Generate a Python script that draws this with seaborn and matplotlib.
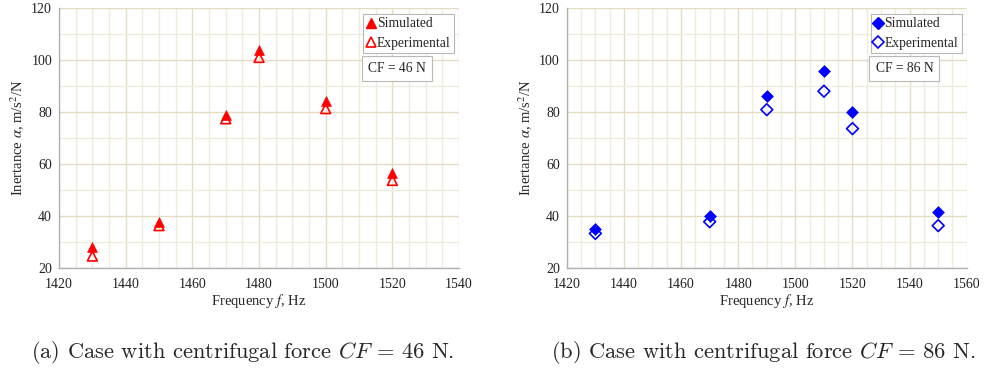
import pandas as pd
import seaborn as sns
import matplotlib
import matplotlib.pyplot as plt
from matplotlib.lines import Line2D
from matplotlib.ticker import MultipleLocator

# data
freq_a = [1430, 1450, 1470, 1480, 1500, 1520]
sim_a = [28.2, 37.6, 78.8, 104.0, 84.2, 56.5]
exp_a = [24.6, 36.3, 77.4, 101.0, 81.3, 53.7]

freq_b = [1430, 1470, 1490, 1510, 1520, 1550]
sim_b = [35.0, 40.1, 86.2, 95.6, 80.1, 41.4]
exp_b = [33.3, 37.8, 80.9, 88.0, 73.6, 36.3]

captions = ["(a) Case with centrifugal force $CF$ = 46 N.",
            "(b) Case with centrifugal force $CF$ = 86 N."]
cf_labels = ["CF = 46 N", "CF = 86 N"]

sns.set_style('white')
matplotlib.rcParams['font.family'] = ['Liberation Serif', 'DejaVu Serif']

fig = plt.figure(figsize=(9.84, 3.71), dpi=100)
ax_a = fig.add_axes([0.060, 0.2776, 0.4065, 0.7008])
ax_b = fig.add_axes([0.576, 0.2776, 0.4065, 0.7008])

panels = [
    (ax_a, freq_a, sim_a, exp_a, 'red', '^', (1420, 1540), 0),
    (ax_b, freq_b, sim_b, exp_b, 'blue', 'D', (1420, 1560), 1),
]

for ax, fr, sim, ex, col, mk, xlim, i in panels:
    df = pd.DataFrame({'f': fr, 'sim': sim, 'exp': ex})
    ms = 50 if mk == '^' else 36
    sns.scatterplot(data=df, x='f', y='exp', marker=mk, s=ms, facecolor='none',
                    edgecolor=col, linewidth=1.2, ax=ax, zorder=3)
    sns.scatterplot(data=df, x='f', y='sim', marker=mk, s=ms, color=col,
                    edgecolor=col, linewidth=0.5, ax=ax, zorder=4)

    ax.set_xlim(*xlim)
    ax.set_ylim(20, 120)
    ax.xaxis.set_major_locator(MultipleLocator(20))
    ax.xaxis.set_minor_locator(MultipleLocator(5))
    ax.yaxis.set_major_locator(MultipleLocator(20))
    ax.yaxis.set_minor_locator(MultipleLocator(10))
    ax.grid(which='minor', color='#efebdd', linewidth=1.0, zorder=0)
    ax.grid(which='major', color='#e3dcc2', linewidth=1.0, zorder=0)
    ax.set_axisbelow(True)
    ax.tick_params(which='both', length=0, labelsize=10, colors='#222222')
    ax.tick_params(axis='x', pad=7)
    ax.tick_params(axis='y', pad=5)
    for s in ['top', 'right']:
        ax.spines[s].set_visible(False)
    for s in ['left', 'bottom']:
        ax.spines[s].set_color('#b0b0b0')
        ax.spines[s].set_linewidth(1.0)

    xl = ax.set_xlabel("Frequency $f$, Hz", fontsize=10.5, labelpad=1)
    xl.set_math_fontfamily('stix')
    yl = ax.set_ylabel("Inertance $\\alpha$, m/s$^2$/N", fontsize=10.5, labelpad=3)
    yl.set_math_fontfamily('stix')

    msz = 7.5 if mk == '^' else 6
    handles = [Line2D([], [], ls='none', marker=mk, color=col, markersize=msz),
               Line2D([], [], ls='none', marker=mk, markerfacecolor='none', markeredgecolor=col,
                      markeredgewidth=1.2, markersize=msz)]
    leg = ax.legend(handles, ['Simulated', 'Experimental'], loc='upper right',
                    bbox_to_anchor=(0.987, 0.977), fontsize=9.8, handlelength=0.6,
                    handletextpad=0.15, borderpad=0.25, labelspacing=0.45,
                    borderaxespad=0, fancybox=False, framealpha=1, edgecolor='#b8b8b8')
    leg.get_frame().set_linewidth(0.8)

    ax.text(0.772, 0.768, cf_labels[i], transform=ax.transAxes, fontsize=9.8,
            ha='left', va='center',
            bbox=dict(boxstyle='square,pad=0.45', facecolor='white', edgecolor='#b8b8b8', linewidth=0.8))

    cx = [0.247, 0.776][i]
    ct = fig.text(cx, 0.05, captions[i], ha='center', va='center', fontsize=16.2,
                  family='cmr10')
    ct.set_math_fontfamily('cm')

fig.savefig('out.png', dpi=100)
